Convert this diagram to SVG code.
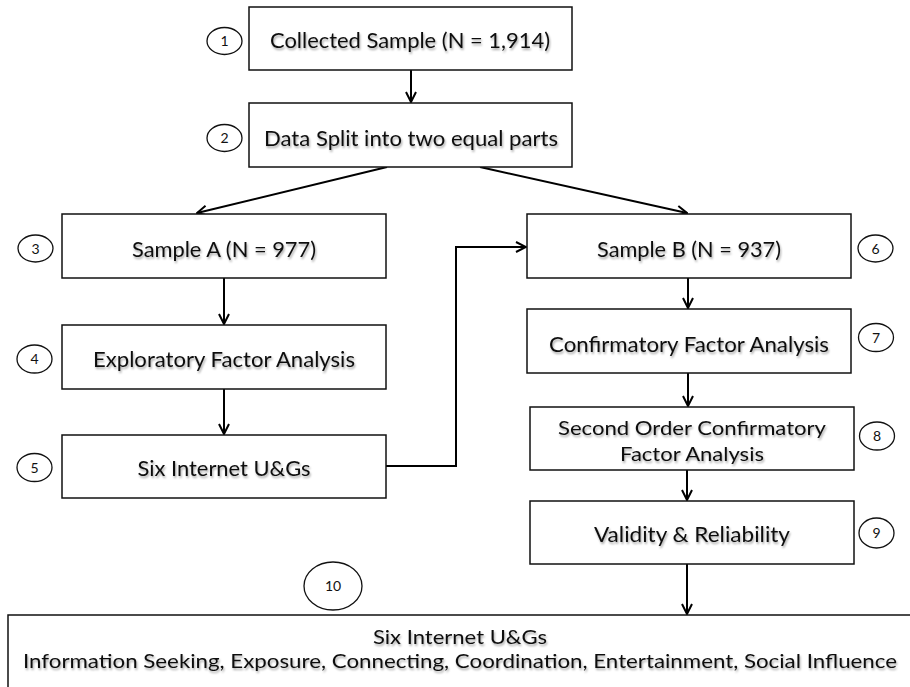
<svg xmlns="http://www.w3.org/2000/svg" width="910" height="687" viewBox="0 0 910 687">
  <defs>
    <filter id="txtShadow" x="-5%" y="-30%" width="110%" height="170%">
      <feDropShadow dx="1" dy="2" stdDeviation="1" flood-color="#000" flood-opacity="0.35"/>
    </filter>
    <marker id="arrow" viewBox="0 0 12 12" refX="11" refY="6" markerWidth="12" markerHeight="12" markerUnits="userSpaceOnUse" orient="auto">
      <path d="M1,1 L11,6 L1,11" fill="none" stroke="#000" stroke-width="2"/>
    </marker>
  </defs>
  <style>
    .box { fill: #fff; stroke: #111; stroke-width: 1.5; }
    .lbl { font-family: Lato, "Open Sans", "Liberation Sans", sans-serif; font-size: 22px; fill: #111; text-anchor: middle; filter: url(#txtShadow); }
    .lbl.sm { font-size: 20px; }
    .num { fill: #fff; stroke: #111; stroke-width: 1.3; }
    .numt { font-family: Lato, "Open Sans", "Liberation Sans", sans-serif; font-size: 14px; fill: #111; text-anchor: middle; }
    .conn { fill: none; stroke: #000; stroke-width: 2; marker-end: url(#arrow); }
  </style>
  <rect width="910" height="687" fill="#fff"/>

  <!-- connectors -->
  <g id="connectors">
    <line class="conn" x1="411" y1="70" x2="411" y2="102"/>
    <line class="conn" x1="387" y1="167" x2="197" y2="213"/>
    <line class="conn" x1="480" y1="167" x2="687" y2="213"/>
    <line class="conn" x1="224" y1="278" x2="224" y2="324"/>
    <line class="conn" x1="224" y1="389" x2="224" y2="434"/>
    <polyline class="conn" points="386,466 456,466 456,247 526,247"/>
    <line class="conn" x1="688" y1="278" x2="688" y2="308"/>
    <line class="conn" x1="688" y1="373" x2="688" y2="406"/>
    <line class="conn" x1="687" y1="470" x2="687" y2="500"/>
    <line class="conn" x1="687" y1="564" x2="687" y2="614"/>
  </g>

  <g id="step1">
    <rect class="box" x="249" y="7" width="323" height="63"/>
    <text class="lbl" x="410" y="48" textLength="280" lengthAdjust="spacingAndGlyphs">Collected Sample (N = 1,914)</text>
    <ellipse class="num" cx="224.5" cy="41" rx="17.5" ry="13.5"/>
    <text class="numt" x="224.5" y="46">1</text>
  </g>

  <g id="step2">
    <rect class="box" x="249" y="103" width="323" height="64"/>
    <text class="lbl" x="411" y="146" textLength="294" lengthAdjust="spacingAndGlyphs">Data Split into two equal parts</text>
    <ellipse class="num" cx="224.5" cy="138" rx="17.5" ry="13.5"/>
    <text class="numt" x="224.5" y="143">2</text>
  </g>

  <g id="step3">
    <rect class="box" x="62" y="214" width="324" height="64"/>
    <text class="lbl" x="224" y="257" textLength="184" lengthAdjust="spacingAndGlyphs">Sample A (N = 977)</text>
    <ellipse class="num" cx="35.5" cy="248.5" rx="17.5" ry="13.5"/>
    <text class="numt" x="35.5" y="253.5">3</text>
  </g>

  <g id="step4">
    <rect class="box" x="62" y="325" width="324" height="64"/>
    <text class="lbl" x="224" y="367" textLength="262" lengthAdjust="spacingAndGlyphs">Exploratory Factor Analysis</text>
    <ellipse class="num" cx="34.5" cy="359" rx="17.5" ry="14"/>
    <text class="numt" x="34.5" y="364">4</text>
  </g>

  <g id="step5">
    <rect class="box" x="62" y="435" width="324" height="63"/>
    <text class="lbl" x="224" y="476" textLength="173" lengthAdjust="spacingAndGlyphs">Six Internet U&amp;Gs</text>
    <ellipse class="num" cx="34.5" cy="467.5" rx="17.5" ry="14"/>
    <text class="numt" x="34.5" y="472.5">5</text>
  </g>

  <g id="step6">
    <rect class="box" x="527" y="214" width="324" height="64"/>
    <text class="lbl" x="689" y="257" textLength="184" lengthAdjust="spacingAndGlyphs">Sample B (N = 937)</text>
    <ellipse class="num" cx="875.5" cy="248.5" rx="17.5" ry="13.5"/>
    <text class="numt" x="875.5" y="253.5">6</text>
  </g>

  <g id="step7">
    <rect class="box" x="527" y="309" width="324" height="64"/>
    <text class="lbl" x="689" y="352" textLength="280" lengthAdjust="spacingAndGlyphs">Confirmatory Factor Analysis</text>
    <ellipse class="num" cx="876" cy="337.5" rx="17.5" ry="14"/>
    <text class="numt" x="876" y="342.5">7</text>
  </g>

  <g id="step8">
    <rect class="box" x="530" y="407" width="324" height="63"/>
    <text class="lbl sm" x="692" y="435" textLength="268" lengthAdjust="spacingAndGlyphs">Second Order Confirmatory</text>
    <text class="lbl sm" x="692" y="461" textLength="144" lengthAdjust="spacingAndGlyphs">Factor Analysis</text>
    <ellipse class="num" cx="877" cy="436" rx="17.5" ry="14"/>
    <text class="numt" x="877" y="441">8</text>
  </g>

  <g id="step9">
    <rect class="box" x="530" y="501" width="324" height="63"/>
    <text class="lbl" x="692" y="542" textLength="196" lengthAdjust="spacingAndGlyphs">Validity &amp; Reliability</text>
    <ellipse class="num" cx="876.5" cy="533" rx="17.5" ry="15"/>
    <text class="numt" x="876.5" y="538">9</text>
  </g>

  <g id="step10">
    <rect class="box" x="8" y="615" width="910" height="90"/>
    <text class="lbl sm" x="460" y="644" textLength="174" lengthAdjust="spacingAndGlyphs">Six Internet U&amp;Gs</text>
    <text class="lbl sm" x="460" y="668" textLength="874" lengthAdjust="spacingAndGlyphs">Information Seeking, Exposure, Connecting, Coordination, Entertainment, Social Influence</text>
    <ellipse class="num" cx="333" cy="586" rx="29" ry="24"/>
    <text class="numt" x="333" y="591">10</text>
  </g>
</svg>
